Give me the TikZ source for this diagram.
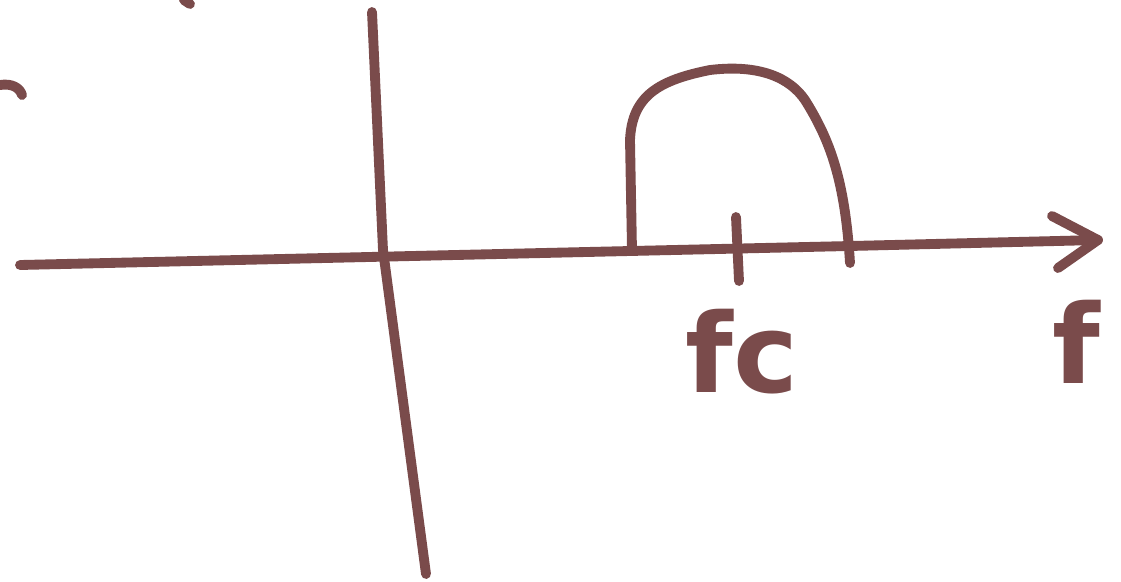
\documentclass[tikz,border=0pt]{standalone}
\usepackage{fontspec}
\setsansfont{DejaVu Sans}
\definecolor{marker}{HTML}{7A4B4B}
\tikzset{
  pen/.style={draw=marker, line width=7pt, line cap=round, line join=round},
  hand/.style={text=marker, font=\sffamily\bfseries\fontsize{78}{78}\selectfont, inner sep=0pt}
}
\begin{document}
\begin{tikzpicture}[x=0.025cm, y=-0.025cm]
    \useasboundingbox (0,0) rectangle (1121,581);
    % stray marks at the edges
    \draw[pen] (184,0) -- (190,4);
    \draw[pen] (0,85) .. controls (12,83) and (20,88) .. (22,95);

    % axes
    \coordinate (xstart) at (20,265);
    \coordinate (xend) at (1098,240);
    \coordinate (ystart) at (372,12);
    \coordinate (yend) at (426,574);
    \draw[pen] (xstart) -- (630,251) -- (850,246) -- (xend);
    \draw[pen] (1052,216) -- (xend) -- (1058,268);
    \draw[pen] (ystart) -- (383,250) -- (yend);

    % band around the carrier
    \draw[pen] (632,250) -- (630,140) .. controls (632,95) and (660,80) .. (710,70)
        .. controls (760,64) and (790,78) .. (805,100)
        .. controls (830,140) and (845,180) .. (850,263);

    % carrier tick
    \draw[pen] (736,217) -- (739,281);

    % labels
    \node[hand] (fc) at (742,352) {fc};
    \node[hand] (f) at (1076,342) {f};
\end{tikzpicture}
\end{document}
